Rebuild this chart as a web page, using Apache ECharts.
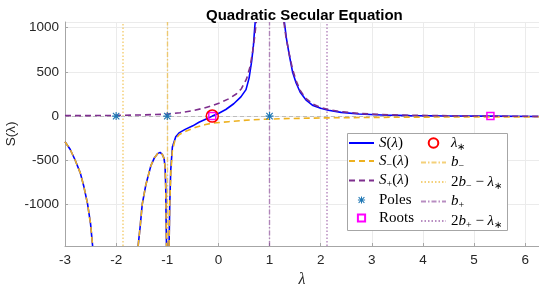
<!DOCTYPE html>
<html><head><meta charset="utf-8">
<script src="https://cdn.jsdelivr.net/npm/echarts@6/dist/echarts.min.js"></script>
<style>html,body{margin:0;padding:0;background:#fff}#c{width:539px;height:286px}</style>
</head><body><div id="c"></div>
<script>
// axis limits and ticks
const xMin = -3, xMax = 6.27, yMin = -1470, yMax = 1065;
const xTickStep = 1, yTickStep = 500;

// S(lambda) branches
const sBranchA = [[-3,-290],[-2.9,-375],[-2.8,-500],[-2.7,-645],[-2.63,-800],[-2.56,-990],[-2.5,-1220],[-2.46,-1470]];
const sBranchB = [[-1.57,-1470],[-1.53,-1250],[-1.49,-1000],[-1.42,-780],[-1.32,-560],[-1.25,-470],[-1.19,-425],[-1.14,-410],[-1.095,-436],[-1.063,-478],[-1.043,-573],[-1.03,-800],[-1.023,-1175],[-1.015,-1470]];
const sBranchC = [[-0.965,-1470],[-0.951,-990],[-0.932,-610],[-0.9,-350],[-0.834,-234],[-0.77,-190],[-0.65,-150],[-0.5,-110],[-0.38,-70],[-0.25,-35],[-0.12,0],[0,30],[0.145,75],[0.3,140],[0.44,218],[0.54,300],[0.6,430],[0.65,620],[0.685,800],[0.71,1000],[0.72,1065]];
const sBranchD = [[1.29,1065],[1.33,880],[1.39,680],[1.45,500],[1.52,375],[1.6,270],[1.71,185],[1.85,120],[2.0,88],[2.15,66],[2.4,42],[2.75,24],[3.2,12],[3.74,6],[4.5,2],[5.32,0],[6.27,-4]];

// S_-(lambda)
const sMinusA = sBranchA;
const sMinusB = sBranchB;
const sMinusC = [[-0.965,-1470],[-0.951,-990],[-0.93,-640],[-0.9,-390],[-0.85,-275],[-0.77,-210],[-0.64,-172],[-0.44,-125],[-0.25,-95],[-0.12,-80],[0.2,-63],[0.5,-48],[0.8,-38],[1.2,-30],[1.6,-25],[2.1,-20],[3.0,-15],[3.7,-12],[5.0,-9],[6.27,-8]];

// S_+(lambda)
const sPlusA = [[-3,5],[-2.5,6],[-2,8],[-1.5,13],[-1.0,22],[-0.75,38],[-0.5,62],[-0.3,88],[-0.12,120],[0.05,155],[0.2,195],[0.35,250],[0.45,310],[0.55,420],[0.62,560],[0.67,730],[0.71,900],[0.74,1065]];
const sPlusB = [[1.28,1065],[1.32,900],[1.38,720],[1.45,530],[1.52,400],[1.6,290],[1.71,200],[1.85,135],[2.0,97],[2.17,72],[2.4,50],[2.75,30],[3.2,17],[3.74,10],[4.5,4],[5.32,0],[6.27,-3]];

// markers
const polesX = [-2, -1, 1];
const rootsX = [-0.12, 5.32];
const lambdaStarX = [-0.12];
// vertical reference lines
const bMinus = -1, reflMinus = -1.88, bPlus = 1, reflPlus = 2.12;

const GAP = ['-', '-'];
function joinBranches(...brs) {
  const out = [];
  brs.forEach((b, i) => { if (i) out.push(GAP); b.forEach(p => out.push(p)); });
  return out;
}
const onZero = xs => xs.map(x => [x, 0]);

const SANS = 'Liberation Sans, Arial, Helvetica, sans-serif';
const SERIF = 'Liberation Serif, Times New Roman, serif';
const BLUE = '#0000FF', ORANGE = '#EDB120', PURPLE = '#7E2F8E';
const ORANGE_L = 'rgba(237,177,32,0.6)', PURPLE_L = 'rgba(126,47,142,0.55)';
const ASTERISK = 'path://M0 8.6L20 8.6L20 11.4L0 11.4ZM8.6 0L11.4 0L11.4 20L8.6 20ZM3 1L19 17L17 19L1 3ZM17 1L19 3L3 19L1 17Z';

const labelMap = {
  'S': '{i|S}{r|(}{i|λ}{r|)}',
  'S-': '{i|S}{s|−}{r|(}{i|λ}{r|)}',
  'S+': '{i|S}{s|+}{r|(}{i|λ}{r|)}',
  'Poles': '{r|Poles}',
  'Roots': '{r|Roots}',
  'lam': '{i|λ}{s|∗}',
  'b-': '{i|b}{s|−}',
  '2b- - lam': '{r|2}{i|b}{s|−}{r| − }{i|λ}{s|∗}',
  'b+': '{i|b}{s|+}',
  '2b+ - lam': '{r|2}{i|b}{s|+}{r| − }{i|λ}{s|∗}'
};
const richText = {
  i: { fontFamily: SERIF, fontStyle: 'italic', fontSize: 15, lineHeight: 18, color: '#000' },
  r: { fontFamily: SERIF, fontSize: 15, lineHeight: 18, color: '#000' },
  s: { fontFamily: SERIF, fontSize: 10, lineHeight: 12, verticalAlign: 'bottom', color: '#000' }
};
const lineOnly = n => ({ name: n, itemStyle: { opacity: 0 } });

function vline(name, x, color, type, width) {
  return {
    name, type: 'line', data: [], symbol: 'none',
    lineStyle: { color, type, width }, itemStyle: { color },
    markLine: { silent: true, symbol: 'none', z: 1, label: { show: false },
      lineStyle: { color, type, width }, data: [{ xAxis: x }] }
  };
}

const chart = echarts.init(document.getElementById('c'), null, { renderer: 'canvas' });
chart.setOption({
  animation: false,
  backgroundColor: '#fff',
  title: {
    text: 'Quadratic Secular Equation', left: 201, top: 3,
    textStyle: { fontFamily: SANS, fontWeight: 'bold', fontSize: 15, color: '#000' }
  },
  grid: { left: 65, top: 22, width: 474, height: 224, outerBoundsMode: 'none', containLabel: false },
  xAxis: {
    type: 'value', min: xMin, max: xMax, interval: xTickStep,
    name: 'λ', nameLocation: 'middle', nameGap: 21,
    nameTextStyle: { fontFamily: SERIF, fontStyle: 'italic', fontSize: 16, color: '#262626' },
    axisLine: { onZero: false, lineStyle: { color: '#A6A6A6', width: 1 } },
    axisTick: { inside: true, length: 3, lineStyle: { color: '#A6A6A6' } },
    axisLabel: { showMaxLabel: false, margin: 7, fontFamily: SANS, fontSize: 13.5, color: '#262626' },
    splitLine: { show: true, lineStyle: { color: '#EBEBEB', width: 1 } }
  },
  yAxis: {
    type: 'value', min: yMin, max: yMax, minInterval: yTickStep, maxInterval: yTickStep,
    name: 'S(λ)', nameLocation: 'middle', nameGap: 47, nameMoveOverlap: false,
    nameTextStyle: { fontFamily: SANS, fontSize: 13.5, color: '#262626' },
    axisLine: { show: true, onZero: false, lineStyle: { color: '#A6A6A6', width: 1 } },
    axisTick: { show: true, inside: true, length: 3, lineStyle: { color: '#A6A6A6' } },
    axisLabel: { showMinLabel: false, showMaxLabel: false, margin: 6, fontFamily: SANS, fontSize: 13.5, color: '#262626',
      formatter: v => String(v) },
    splitLine: { show: true, lineStyle: { color: '#EBEBEB', width: 1 } }
  },
  legend: [
    { orient: 'vertical', left: 348, top: 135.5, padding: 0, itemGap: 3, itemWidth: 25, itemHeight: 9, z: 5,
      data: [lineOnly('S'), lineOnly('S-'), lineOnly('S+'), 'Poles', 'Roots'],
      formatter: n => labelMap[n], textStyle: { rich: richText } },
    { orient: 'vertical', left: 420, top: 135.5, padding: 0, itemGap: 3, itemWidth: 25, itemHeight: 12, z: 5,
      data: ['lam', lineOnly('b-'), lineOnly('2b- - lam'), lineOnly('b+'), lineOnly('2b+ - lam')],
      formatter: n => labelMap[n], textStyle: { rich: richText } }
  ],
  graphic: [{
    type: 'rect', z: 3, silent: true,
    shape: { x: 347.5, y: 133.5, width: 160, height: 97 },
    style: { fill: '#fff', stroke: '#A6A6A6', lineWidth: 1 }
  }],
  series: [
    vline('b-', bMinus, ORANGE_L, [5, 2, 1.5, 2], 1.4),
    vline('2b- - lam', reflMinus, ORANGE_L, [1.5, 2], 1.5),
    vline('b+', bPlus, PURPLE_L, [5, 2, 1.5, 2], 1.4),
    vline('2b+ - lam', reflPlus, PURPLE_L, [1.5, 2], 1.5),
    { name: 'S', type: 'line', symbol: 'none', connectNulls: false,
      data: joinBranches(sBranchA, sBranchB, sBranchC, sBranchD),
      lineStyle: { color: BLUE, width: 1.6 }, itemStyle: { color: BLUE } },
    { name: 'S-', type: 'line', symbol: 'none', connectNulls: false,
      data: joinBranches(sMinusA, sMinusB, sMinusC),
      lineStyle: { color: ORANGE, width: 1.6, type: [6, 4] }, itemStyle: { color: ORANGE } },
    { name: 'S+', type: 'line', symbol: 'none', connectNulls: false,
      data: joinBranches(sPlusA, sPlusB),
      lineStyle: { color: PURPLE, width: 1.6, type: [6, 4] }, itemStyle: { color: PURPLE } },
    { name: 'Poles', type: 'line', symbol: ASTERISK, symbolSize: 8, showSymbol: true,
      data: onZero(polesX),
      lineStyle: { opacity: 0 }, itemStyle: { color: '#1F77B4' },
      markLine: { silent: true, symbol: 'none', z: 1, label: { show: false },
        lineStyle: { color: '#BDBDBD', type: [4, 3], width: 1 }, data: [{ yAxis: 0 }] } },
    { name: 'Roots', type: 'line', symbol: 'rect', symbolSize: 7, showSymbol: true,
      data: onZero(rootsX),
      lineStyle: { opacity: 0 },
      itemStyle: { color: 'rgba(0,0,0,0)', borderColor: '#FF00FF', borderWidth: 1.5 } },
    { name: 'lam', type: 'line', symbol: 'circle', symbolSize: 12, showSymbol: true,
      data: onZero(lambdaStarX),
      lineStyle: { opacity: 0 },
      itemStyle: { color: 'rgba(0,0,0,0)', borderColor: '#FF0000', borderWidth: 1.5 } }
  ]
});
</script>
</body></html>
